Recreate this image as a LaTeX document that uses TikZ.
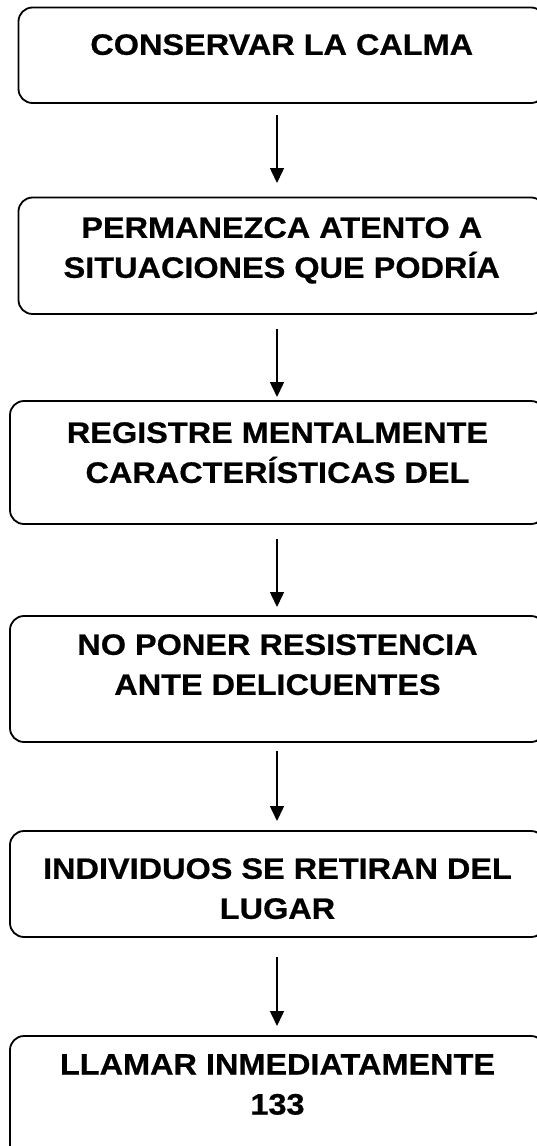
\documentclass[tikz,border=0pt]{standalone}
\usepackage{fontspec}
\setmainfont{Liberation Sans}[FakeStretch=1.1,BoldFeatures={FakeStretch=1.1,FakeBold=0.6}]
\usetikzlibrary{positioning,arrows.meta}

\tikzset{
  box/.style={draw, line width=1.8pt, rounded corners=14pt, inner sep=0pt, outer sep=0pt},
  txt/.style={align=center, inner sep=0pt, font=\fontsize{29.5}{40}\selectfont\bfseries},
  arr/.style={line width=1.5pt, -{Triangle[width=14pt,length=15pt]}}
}

\begin{document}
\begin{tikzpicture}
\useasboundingbox (0,0) rectangle (537pt,-1146pt);
\clip (0,0) rectangle (537pt,-1146pt);

% boxes
\node[box, minimum width=526.5pt, minimum height=95.5pt] (b1) at (281.75pt,-55.25pt) {};
\node[box, minimum width=526.5pt, minimum height=116.5pt] (b2) at (281.75pt,-255.75pt) {};
\node[box, minimum width=535pt, minimum height=123pt] (b3) at (277.5pt,-462.5pt) {};
\node[box, minimum width=535pt, minimum height=126pt] (b4) at (277.5pt,-679pt) {};
\node[box, minimum width=535pt, minimum height=106pt] (b5) at (277.5pt,-884pt) {};
\node[box, minimum width=535pt, minimum height=124pt] (b6) at (277.5pt,-1098pt) {};

% texts
\node[txt, below=26.5pt of b1.north] (t1) {CONSERVAR LA CALMA};
\node[txt, below=19.5pt of b2.north] (t2) {PERMANEZCA ATENTO A\\SITUACIONES QUE PODRÍA};
\node[txt, below=21pt of b3.north] (t3) {REGISTRE MENTALMENTE\\CARACTERÍSTICAS DEL};
\node[txt, below=18pt of b4.north] (t4) {NO PONER RESISTENCIA\\ANTE DELICUENTES};
\node[txt, below=27pt of b5.north] (t5) {INDIVIDUOS SE RETIRAN DEL\\LUGAR};
\node[txt, below=18pt of b6.north] (t6) {LLAMAR INMEDIATAMENTE\\133};

% arrows
\coordinate (axis) at (277pt,0);
\foreach \a/\b/\s/\e in {b1/b2/12/14.5, b2/b3/15/4, b3/b4/15/9, b4/b5/9/10, b5/b6/20/10}{
  \draw[arr, shorten <=\s pt, shorten >=\e pt] (\a.south -| axis) -- (\b.north -| axis);
}

\end{tikzpicture}
\end{document}
